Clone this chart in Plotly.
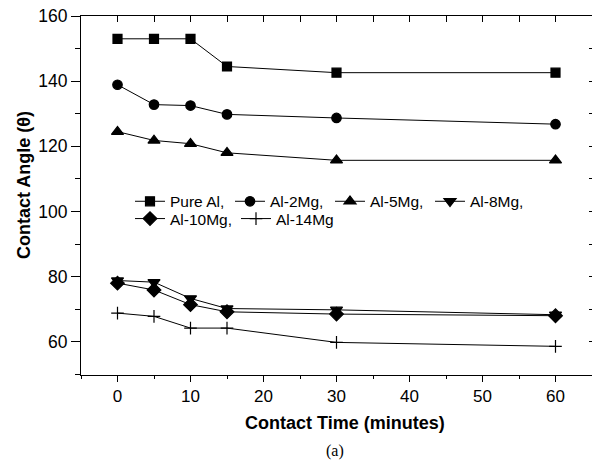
import plotly.graph_objects as go

time_min = [0, 5, 10, 15, 30, 60]
pure_al = [153, 153, 153, 144.5, 142.6, 142.6]
al_2mg = [138.9, 132.8, 132.5, 129.8, 128.7, 126.8]
al_5mg = [124.5, 121.8, 120.8, 118.0, 115.7, 115.7]
al_8mg = [78.8, 78.3, 73.3, 70.2, 69.8, 68.3]
al_10mg = [78.0, 75.9, 71.4, 69.2, 68.5, 68.0]
al_14mg = [68.8, 67.8, 64.2, 64.2, 59.8, 58.6]

series = [
    ("Pure Al,", pure_al, "square", 9, "legend"),
    ("Al-2Mg,", al_2mg, "circle", 9.5, "legend"),
    ("Al-5Mg,", al_5mg, "triangle-up", 10.5, "legend"),
    ("Al-8Mg,", al_8mg, "triangle-down", 10.5, "legend"),
    ("Al-10Mg,", al_10mg, "diamond", 10.5, "legend2"),
    ("Al-14Mg", al_14mg, "cross-thin", 9, "legend2"),
]

fig = go.Figure()
for name, vals, sym, size, leg in series:
    fig.add_trace(go.Scatter(
        x=time_min, y=vals, name=name, mode="lines+markers",
        line=dict(color="black", width=1),
        marker=dict(symbol=sym, size=size, color="black",
                    line=dict(color="black", width=1.2)),
        legend=leg,
    ))

XR = [-5, 65]
YR = [49.8, 160]
font = "Liberation Sans, Arial, sans-serif"

L, R, T, B = 81, 0, 16, 87
W, H = 592, 462
plot_w = W - L - R
plot_h = H - T - B


def px_x(px):
    return (px - L) / plot_w


def px_y(py):
    return (H - B - py) / plot_h


fig.update_layout(
    template="none",
    width=W, height=H,
    margin=dict(l=L, r=R, t=T, b=B, autoexpand=False),
    paper_bgcolor="white", plot_bgcolor="white",
    font=dict(family=font, size=16, color="black"),
    showlegend=True,
    xaxis=dict(range=XR, dtick=10, tick0=0, ticks="outside", ticklen=6,
               tickwidth=1, tickcolor="black", showline=True, linecolor="black",
               linewidth=1, showgrid=False, zeroline=False, automargin=False,
               tickfont=dict(size=17),
               minor=dict(dtick=5, tick0=0, ticks="outside", ticklen=3,
                          tickcolor="black", showgrid=False)),
    yaxis=dict(range=YR, dtick=20, tick0=0, ticks="outside", ticklen=9,
               tickwidth=1, tickcolor="black", showline=True, linecolor="black",
               linewidth=1, showgrid=False, zeroline=False, automargin=False,
               tickfont=dict(size=17.5),
               minor=dict(dtick=10, tick0=0, ticks="outside", ticklen=5,
                          tickcolor="black", showgrid=False)),
    xaxis2=dict(range=XR, overlaying="x", side="top", dtick=5, tick0=0,
                ticks="inside", ticklen=6, tickcolor="black", showline=True,
                linecolor="black", linewidth=1, showgrid=False,
                zeroline=False, showticklabels=False, automargin=False),
    yaxis2=dict(range=YR, overlaying="y", side="right", dtick=10, tick0=0,
                ticks="inside", ticklen=3, tickcolor="black", showline=False,
                showgrid=False, zeroline=False, showticklabels=False,
                automargin=False),
    legend=dict(orientation="h", x=px_x(130), y=px_y(201.7),
                xanchor="left", yanchor="middle", bgcolor="rgba(0,0,0,0)",
                font=dict(size=15.5), entrywidth=55, entrywidthmode="pixels"),
    legend2=dict(orientation="h", x=px_x(130), y=px_y(219),
                 xanchor="left", yanchor="middle", bgcolor="rgba(0,0,0,0)",
                 font=dict(size=15.5), entrywidth=61, entrywidthmode="pixels"),
    annotations=[
        dict(text="<b>Contact Angle (θ)</b>", textangle=-90,
             x=px_x(24), y=px_y(185),
             xanchor="center", yanchor="middle",
             xref="paper", yref="paper", showarrow=False,
             font=dict(size=18)),
        dict(text="<b>Contact Time (minutes)</b>",
             x=px_x(344.5), y=px_y(423),
             xanchor="center", yanchor="middle",
             xref="paper", yref="paper", showarrow=False,
             font=dict(size=18)),
        dict(text="(a)", x=px_x(335), y=px_y(451),
             xanchor="center", yanchor="middle",
             xref="paper", yref="paper", showarrow=False,
             font=dict(family="Liberation Serif, Times New Roman, serif", size=16)),
    ],
)
# invisible trace so that the mirrored top/right axes are drawn
fig.add_trace(go.Scatter(x=[None], y=[None], xaxis="x2", yaxis="y2",
                         showlegend=False, hoverinfo="skip"))

fig.write_html("out.html", config={"displayModeBar": False},
               post_script="document.body.style.margin='0';"
                           "document.body.style.overflow='hidden';"
                           "document.documentElement.style.overflow='hidden';")
